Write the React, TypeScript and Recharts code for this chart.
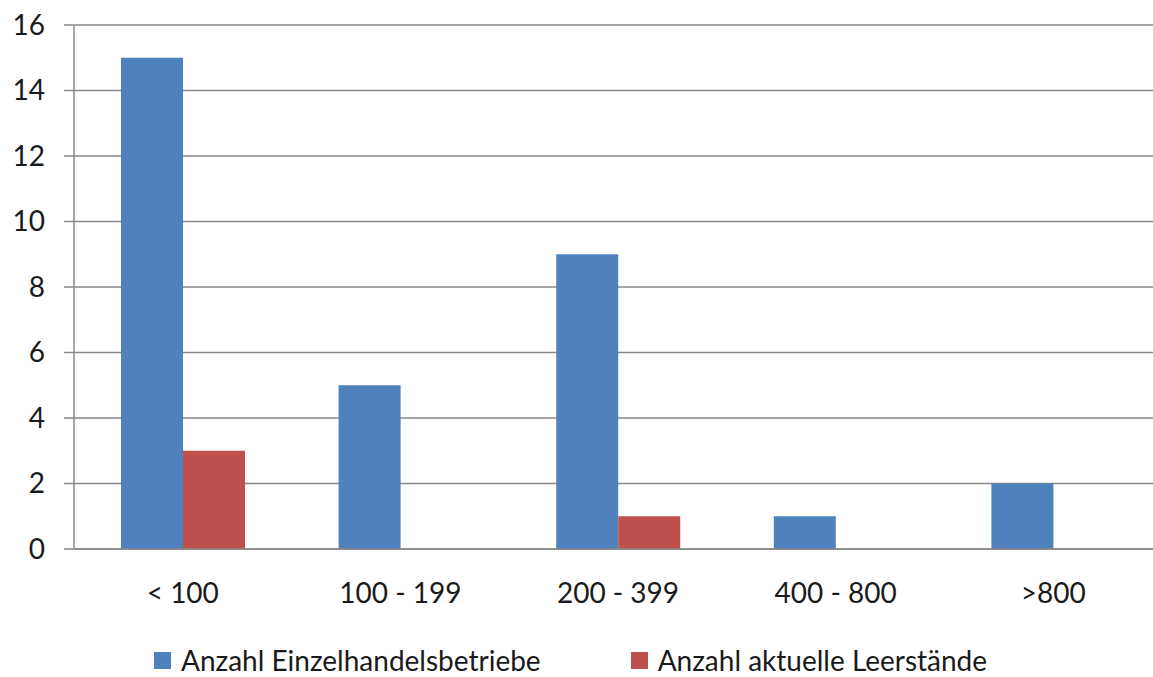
import React from 'react';
import { BarChart, Bar, XAxis, YAxis, CartesianGrid, Legend } from 'recharts';

// Verkaufsflächen-Klassen (m²)
const categories = ['< 100', '100 - 199', '200 - 399', '400 - 800', '>800'];
const betriebe = [15, 5, 9, 1, 2];
const leerstaende = [3, 0, 1, 0, 0];
const yTicks = [0, 2, 4, 6, 8, 10, 12, 14, 16];
const boundaryTicks = [0, 1, 2, 3, 4, 5];

const SERIES = [
  { key: 'betriebe', name: 'Anzahl Einzelhandelsbetriebe', color: '#4F81BD' },
  { key: 'leerstaende', name: 'Anzahl aktuelle Leerstände', color: '#C0504D' },
];

const data = categories.map((name, i) => ({
  name,
  betriebe: betriebe[i],
  leerstaende: leerstaende[i],
}));

const FONT = 'Lato, "Open Sans", sans-serif';
const GRAY = '#898989';

const LegendContent = () => (
  <div
    style={{
      display: 'flex',
      alignItems: 'center',
      height: 34,
      paddingLeft: 154,
      fontFamily: FONT,
      fontSize: 28,
      color: '#1a1a1a',
    }}
  >
    {SERIES.map((s, i) => (
      <div
        key={s.key}
        style={{ display: 'flex', alignItems: 'center', marginRight: i === 0 ? 90 : 0 }}
      >
        <span style={{ width: 17, height: 17, background: s.color, marginRight: 10 }} />
        <span style={{ lineHeight: '34px', whiteSpace: 'nowrap' }}>{s.name}</span>
      </div>
    ))}
  </div>
);

export default function App() {
  return (
    <div
      style={{
        position: 'absolute',
        left: 0,
        top: 0,
        width: 1153,
        height: 677,
        overflow: 'hidden',
        background: '#fff',
      }}
    >
      <BarChart
        width={1170}
        height={677}
        data={data}
        margin={{ top: 25, right: 8, left: 0, bottom: 0 }}
        barCategoryGap="21.6%"
        barGap={0}
      >
        <CartesianGrid vertical={false} stroke={GRAY} strokeWidth={1.5} xAxisId="a" />
        {/* boundary ticks between the categories */}
        <XAxis
          xAxisId="a"
          type="number"
          domain={[0, 5]}
          ticks={boundaryTicks}
          allowDataOverflow
          tick={false}
          tickSize={11}
          height={1}
          stroke={GRAY}
          strokeWidth={1.5}
        />
        <XAxis
          xAxisId="b"
          dataKey="name"
          axisLine={false}
          tickLine={false}
          tickSize={0}
          tickMargin={33}
          height={93}
          interval={0}
          tick={{ fontSize: 28, fontFamily: FONT, fill: '#1a1a1a' }}
        />
        <YAxis
          domain={[0, 16]}
          ticks={yTicks}
          width={74}
          tickSize={10}
          tickMargin={19}
          stroke={GRAY}
          strokeWidth={1.5}
          tick={{ fontSize: 28, fontFamily: FONT, fill: '#1a1a1a' }}
        />
        <Legend verticalAlign="bottom" wrapperStyle={{ left: 0, width: 1170 }} content={<LegendContent />} />
        {SERIES.map((s) => (
          <Bar
            key={s.key}
            xAxisId="b"
            dataKey={s.key}
            name={s.name}
            fill={s.color}
            isAnimationActive={false}
          />
        ))}
      </BarChart>
    </div>
  );
}
